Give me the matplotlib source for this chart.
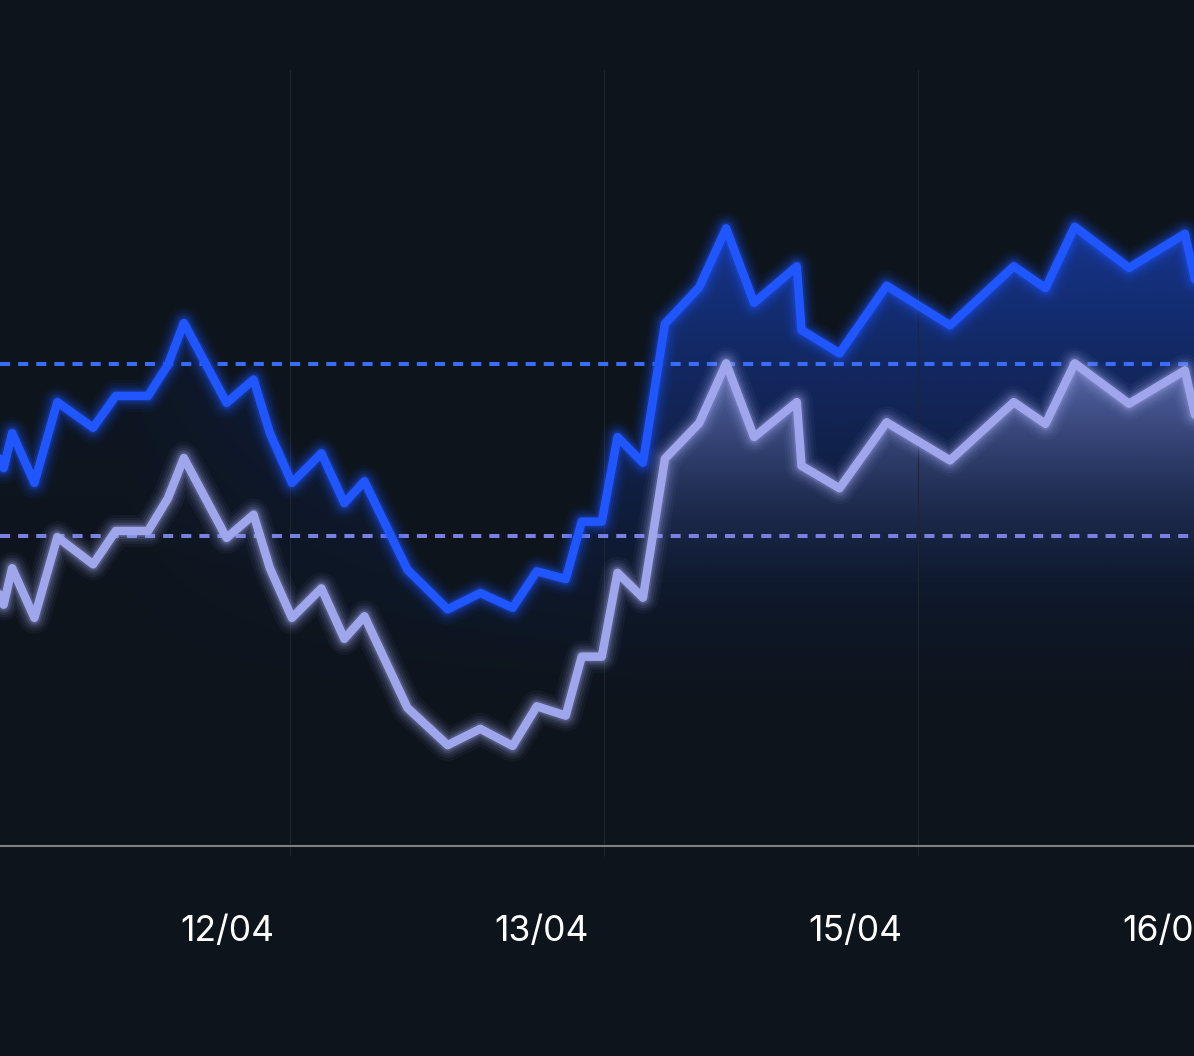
import numpy as np
import matplotlib.pyplot as plt
from matplotlib.colors import to_rgb

# дані (x - дні, y - умовні одиниці)
days = [0.061, 0.088, 0.115, 0.186, 0.259, 0.373, 0.445, 0.548, 0.611, 0.662,
        0.798, 0.884, 0.936, 1.006, 1.100, 1.173, 1.237, 1.374, 1.502, 1.606,
        1.709, 1.786, 1.878, 1.929, 1.993, 2.043, 2.124, 2.194, 2.303, 2.389,
        2.478, 2.614, 2.629, 2.750, 2.900, 3.102, 3.305, 3.406, 3.499, 3.672,
        3.850, 3.904]
blue_vals = [51.0, 48.7, 53.2, 46.8, 57.2, 53.9, 58.0, 58.0, 62.0, 67.4,
             57.1, 60.1, 53.2, 46.8, 50.6, 44.2, 47.0, 35.6, 30.5, 32.6,
             30.7, 35.4, 34.4, 41.8, 41.8, 52.7, 49.4, 67.3, 72.0, 79.6,
             70.0, 74.7, 66.5, 63.5, 72.2, 67.1, 74.7, 71.9, 79.8, 74.5,
             78.9, 69.1]
lilac_vals = [33.6, 31.1, 35.8, 29.4, 39.8, 36.3, 40.6, 40.6, 44.8, 50.0,
              39.7, 42.7, 35.8, 29.4, 33.2, 26.7, 29.6, 17.8, 13.0, 15.1,
              12.9, 18.0, 16.8, 24.4, 24.4, 35.2, 32.0, 49.9, 54.5, 62.2,
              52.7, 57.2, 49.0, 46.1, 54.6, 49.7, 57.2, 54.4, 62.2, 57.0,
              61.3, 51.7]
blue_ref = 62.1
lilac_ref = 39.9
tick_pos = [0.8, 1.8, 2.8, 3.8]
tick_labels = ['12/04', '13/04', '15/04', '16/04']
day_lines = [1, 2, 3]

BG = '#0d141c'
BLUE = '#1f56ff'
LILAC = '#a0a6ec'
GRID = '#1f262e'

plt.rcParams['font.family'] = ['Inter', 'DejaVu Sans']

fig = plt.figure(figsize=(11.94, 10.56), dpi=100, facecolor=BG)
ax = fig.add_axes([0, 210 / 1056, 1, 776 / 1056])
ax.set_facecolor(BG)
x0, x1 = 24 / 314, 1218 / 314


def gradient_fill(x, y, color, top, bottom, amax, power, z):
    poly = ax.fill_between(x, y, 0, facecolor='none', edgecolor='none')
    path = poly.get_paths()[0]
    ys = np.linspace(100, 0, 400)
    xs = np.linspace(x0, x1, 600)
    a_y = amax * np.clip((ys - bottom) / (top - bottom), 0, 1) ** power
    a_x = np.clip((xs - 0.3) / 1.8, 0.1, 1)
    img = np.zeros((400, 600, 4))
    img[..., :3] = to_rgb(color)
    img[..., 3] = a_y[:, None] * a_x[None, :]
    im = ax.imshow(img, extent=[x0, x1, 0, 100], origin='upper',
                   aspect='auto', zorder=z, interpolation='bilinear')
    im.set_clip_path(path, transform=ax.transData)


def glow_line(x, y, color, z):
    # м'яке світіння навколо лінії
    for w, a in [(32, 0.05), (26, 0.07), (21, 0.10), (16, 0.15), (12, 0.22)]:
        ax.plot(x, y, color=color, lw=w * 0.72, alpha=a, zorder=z,
                solid_joinstyle='round', solid_capstyle='round')
    ax.plot(x, y, color=color, lw=8.5 * 0.72, zorder=z + 0.1,
            solid_joinstyle='round', solid_capstyle='round')


gradient_fill(days, blue_vals, BLUE, 80, 15, 0.5, 1.5, 1)
gradient_fill(days, lilac_vals, LILAC, 62, 28, 0.5, 2, 1.5)

# пунктирні рівні
ax.axhline(blue_ref, color='#3a6cf5', lw=2.9, ls=(0, (2.5, 2)), zorder=3)
ax.axhline(lilac_ref, color='#7a80e2', lw=2.9, ls=(0, (2.5, 2)), zorder=3)

glow_line(days, blue_vals, BLUE, 4)
glow_line(days, lilac_vals, LILAC, 5)

ax.set_xlim(x0, x1)
ax.set_ylim(0, 100)
ax.set_yticks([])
ax.set_xticks(tick_pos, tick_labels)
ax.set_xticks(day_lines, minor=True)
ax.tick_params(axis='x', which='major', length=0, pad=50,
               labelsize=25.5, labelcolor='white')
ax.tick_params(axis='x', which='minor', length=7.2, width=0.8,
               color=GRID, direction='out')
ax.grid(which='minor', axis='x', color=GRID, lw=0.8, zorder=2)
for s in ['top', 'left', 'right']:
    ax.spines[s].set_visible(False)
ax.spines['bottom'].set_color('#7d7f81')
ax.spines['bottom'].set_linewidth(1.5)

fig.savefig('out.png', dpi=100, facecolor=BG)
